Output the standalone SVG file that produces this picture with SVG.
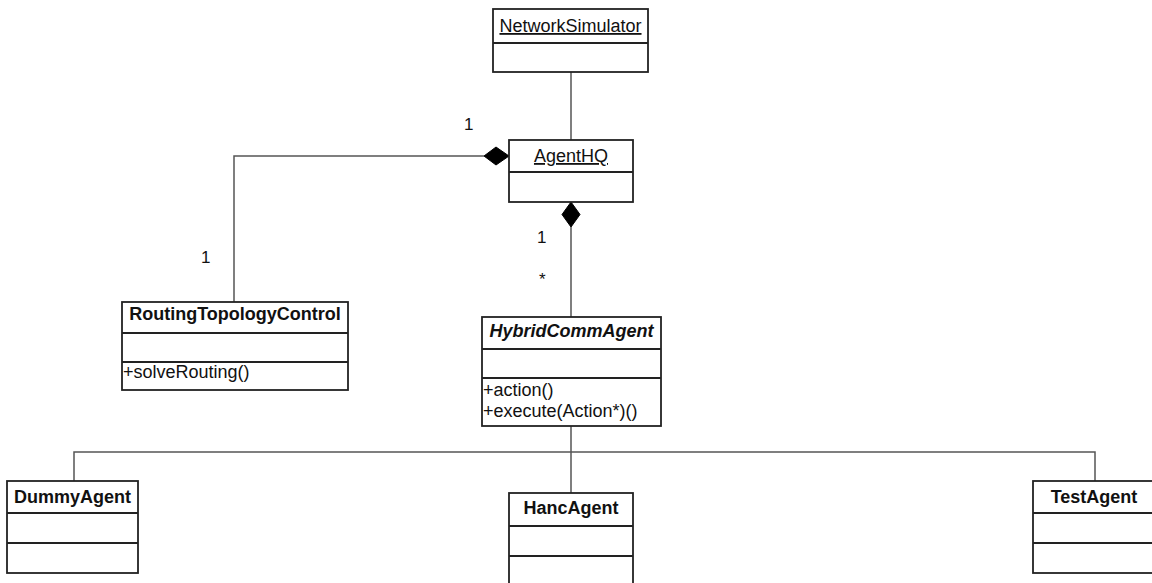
<svg xmlns="http://www.w3.org/2000/svg" width="1152" height="583" viewBox="0 0 1152 583">
<style>
.box{fill:#fff;stroke:#222;stroke-width:1.8}
.div{stroke:#222;stroke-width:1.8}
.con{fill:none;stroke:#555;stroke-width:1.5}
.dia{fill:#000;stroke:#000;stroke-width:1}
text{font-family:"Liberation Sans",Arial,sans-serif;font-size:18px;fill:#111}
.name{text-anchor:middle;font-weight:bold}
.obj{text-anchor:middle;text-decoration:underline}
.abs{font-style:italic}
.lbl{font-size:17px}
</style>
<rect width="1152" height="583" fill="#fff"/>
<g id="connectors">
<path class="con" d="M571 72V140"/>
<path class="con" d="M484 156H234V302"/>
<path class="dia" d="M509 156L496 147L484 156L496 165Z"/>
<path class="con" d="M571 227V317"/>
<path class="dia" d="M571 202L580 214.5L571 227L562 214.5Z"/>
<path class="con" d="M571 426V493"/>
<path class="con" d="M74 481V452H1095V481"/>
<text class="lbl" x="464" y="130">1</text>
<text class="lbl" x="201" y="263">1</text>
<text class="lbl" x="537" y="243">1</text>
<text class="lbl" x="539" y="285">*</text>
</g>
<g id="NetworkSimulator">
<rect class="box" x="493" y="9" width="155" height="63"/>
<line class="div" x1="493" y1="43" x2="648" y2="43"/>
<text class="obj" x="570.5" y="32">NetworkSimulator</text>
</g>
<g id="AgentHQ">
<rect class="box" x="509" y="140" width="124" height="62"/>
<line class="div" x1="509" y1="172" x2="633" y2="172"/>
<text class="obj" x="571" y="162">AgentHQ</text>
</g>
<g id="RoutingTopologyControl">
<rect class="box" x="122" y="302" width="226" height="88"/>
<line class="div" x1="122" y1="333" x2="348" y2="333"/>
<line class="div" x1="122" y1="362" x2="348" y2="362"/>
<text class="name" x="235" y="320">RoutingTopologyControl</text>
<text x="123" y="378">+solveRouting()</text>
</g>
<g id="HybridCommAgent">
<rect class="box" x="482" y="317" width="179" height="109"/>
<line class="div" x1="482" y1="349" x2="661" y2="349"/>
<line class="div" x1="482" y1="378" x2="661" y2="378"/>
<text class="name abs" x="571.5" y="337">HybridCommAgent</text>
<text x="483" y="396">+action()</text>
<text x="483" y="417">+execute(Action*)()</text>
</g>
<g id="DummyAgent">
<rect class="box" x="7" y="481" width="131" height="92"/>
<line class="div" x1="7" y1="513" x2="138" y2="513"/>
<line class="div" x1="7" y1="543" x2="138" y2="543"/>
<text class="name" x="72.5" y="503">DummyAgent</text>
</g>
<g id="HancAgent">
<rect class="box" x="509" y="493" width="124" height="100"/>
<line class="div" x1="509" y1="526" x2="633" y2="526"/>
<line class="div" x1="509" y1="556" x2="633" y2="556"/>
<text class="name" x="571" y="514">HancAgent</text>
</g>
<g id="TestAgent">
<rect class="box" x="1033" y="481" width="122" height="92"/>
<line class="div" x1="1033" y1="513" x2="1155" y2="513"/>
<line class="div" x1="1033" y1="543" x2="1155" y2="543"/>
<text class="name" x="1094" y="503">TestAgent</text>
</g>
</svg>
